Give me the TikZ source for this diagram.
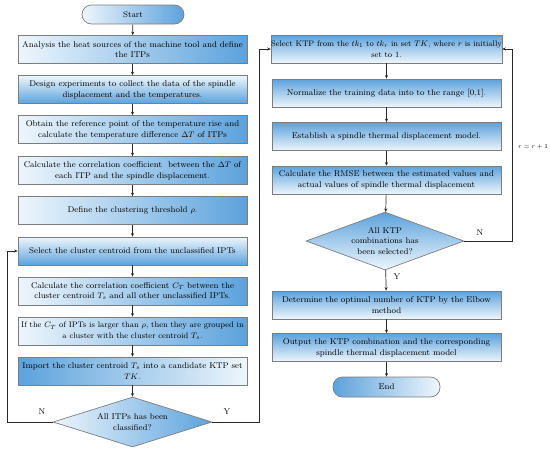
\documentclass[tikz,border=0pt]{standalone}
\usetikzlibrary{shapes.geometric,arrows.meta}
\definecolor{blueD}{RGB}{92,162,220}
\definecolor{blueL}{RGB}{238,246,252}
\definecolor{edge}{RGB}{125,125,125}
\definecolor{linec}{RGB}{40,40,40}
\tikzset{
  box/.style={draw=edge, line width=0.7pt, minimum width=229pt, minimum height=28pt,
    align=center, inner sep=0pt, font=\fontsize{8.4}{10.8}\selectfont},
  lr/.style={left color=blueL, right color=blueD},
  rl/.style={left color=blueD, right color=blueL},
  tb/.style={top color=blueD, bottom color=blueL},
  bt/.style={top color=blueL, bottom color=blueD},
  dia/.style={diamond, draw=edge, line width=0.7pt, inner sep=0pt, align=center,
    font=\fontsize{8.4}{10.8}\selectfont},
  term/.style={draw=edge, line width=0.7pt, rounded corners=9.5pt, align=center,
    font=\fontsize{8.4}{11}\selectfont},
  arr/.style={draw=linec, line width=0.7pt, -{Stealth[length=3.5pt,width=3pt]}},
  lab/.style={font=\fontsize{8.4}{10}\selectfont}
}
\begin{document}
\begin{tikzpicture}[x=1pt,y=-1pt]
\useasboundingbox (0,0) rectangle (550,451);
% left column
\node[term, lr, minimum width=102pt, minimum height=19pt] (start) at (133,14.5) {Start};
\node[box, lr] (b1) at (132.5,49.5) {Analysis the heat sources of the machine tool and define\\the ITPs};
\node[box, bt] (b2) at (132.5,89.5) {Design experiments to collect the data of the spindle\\displacement and the temperatures.};
\node[box, lr] (b3) at (132.5,129.5) {Obtain the reference point of the temperature rise and\\calculate the temperature difference $\Delta T$ of ITPs};
\node[box, lr] (b4) at (132.5,170.5) {Calculate the correlation coefficient \ between the $\Delta T$ of\\each ITP and the spindle displacement.};
\node[box, lr] (b5) at (132.5,210.5) {Define the clustering threshold $\rho$.};
\node[box, bt] (b6) at (132.5,251) {Select the cluster centroid from the unclassified IPTs};
\node[box, lr] (b7) at (132.5,291) {Calculate the correlation coefficient $C_T$ between the\\cluster centroid $T_s$ and all other unclassified IPTs.};
\node[box, lr, font=\fontsize{8}{10.8}\selectfont] (b8) at (132.5,331) {If the $C_T$ of IPTs is larger than $\rho$, then they are grouped in\\a cluster with the cluster centroid $T_s$.};
\node[box, rl] (b9) at (132.5,371) {Import the cluster centroid $T_s$ into a candidate KTP set\\$TK$.};
\node[dia, lr, aspect=3.18, minimum width=159pt, minimum height=50pt] (d1) at (132.5,422) {All ITPs has been\\classified?};
% right column
\node[box, tb, font=\fontsize{8}{10.8}\selectfont] (r1) at (386.5,49) {Select KTP from the $tk_1$ to $tk_r$ in set $TK$, where $r$ is initially\\set to 1.};
\node[box, tb] (r2) at (386.5,93) {Normalize the training data into to the range [0,1].};
\node[box, tb] (r3) at (386.5,136.5) {Establish a spindle thermal displacement model.};
\node[box, tb] (r4) at (386.5,180) {Calculate the RMSE between the estimated values and\\actual values of spindle thermal displacement};
\node[dia, tb, aspect=2.72, minimum width=158pt, minimum height=58pt] (d2) at (385,241) {All KTP\\combinations has\\been selected?};
\node[box, tb] (r5) at (386.5,305) {Determine the optimal number of KTP by the Elbow\\method};
\node[box, tb] (r6) at (386.5,347.5) {Output the KTP combination and the corresponding\\spindle thermal displacement model};
\node[term, rl, minimum width=107pt, minimum height=20pt] (end) at (386.5,387) {End};
% connectors
\draw[arr] (start) -- (b1);
\draw[arr] (b1) -- (b2);
\draw[arr] (b2) -- (b3);
\draw[arr] (b3) -- (b4);
\draw[arr] (b4) -- (b5);
\draw[arr] (b5) -- (b6);
\draw[arr] (b6) -- (b7);
\draw[arr] (b7) -- (b8);
\draw[arr] (b8) -- (b9);
\draw[arr] (b9) -- (d1);
\coordinate (lx) at (7,422);
\coordinate (ry) at (259,422);
\coordinate (rn) at (512,241);
\draw[arr] (d1.west) -- (lx) |- (b6.west);
\draw[arr] (d1.east) -- (ry) |- (r1.west);
\draw[arr] (r1) -- (r2);
\draw[arr] (r2) -- (r3);
\draw[arr] (r3) -- (r4);
\draw[arr] (r4) -- (d2);
\draw[arr] (d2.east) -- (rn) |- (r1.east);
\draw[arr] (d2) -- (r5);
\draw[arr] (r5) -- (r6);
\draw[arr] (r6) -- (end);
% labels
\node[lab] (ln1) at (42,412) {N};
\node[lab] (ly1) at (227,412) {Y};
\node[lab] (ln2) at (480,233) {N};
\node[lab] (ly2) at (397,277) {Y};
\node[font=\fontsize{6.5}{8}\selectfont] (rr) at (533,147) {$r=r+1$};
\end{tikzpicture}
\end{document}
